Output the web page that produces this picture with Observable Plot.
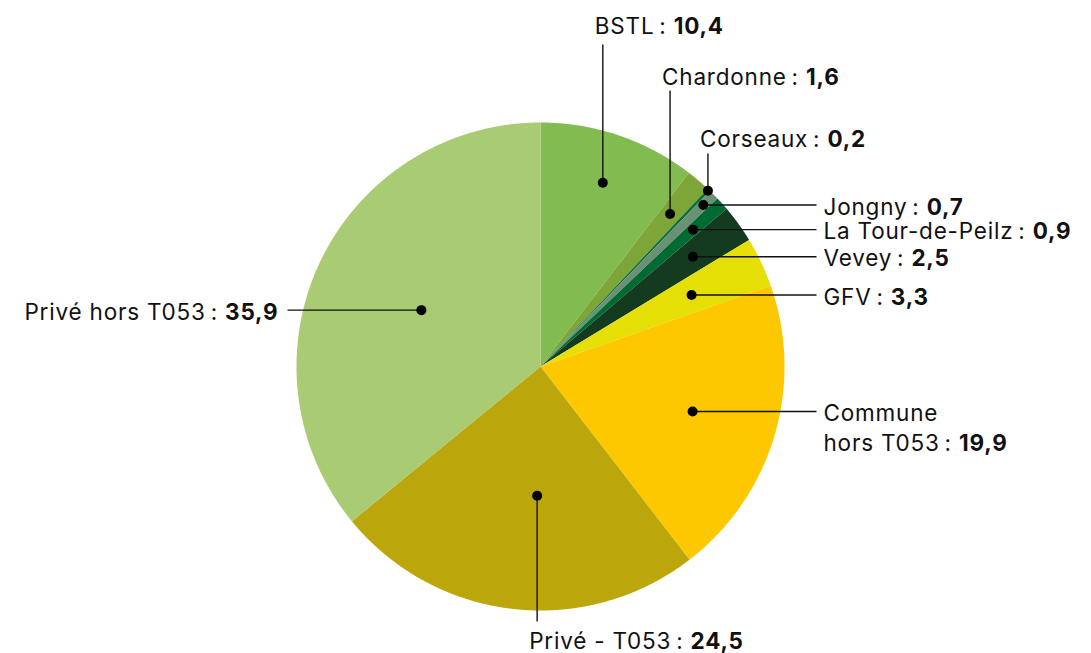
<!DOCTYPE html>
<html><head><meta charset="utf-8">
<script src="https://cdn.jsdelivr.net/npm/d3@7"></script>
<script src="https://cdn.jsdelivr.net/npm/@observablehq/plot@0.6"></script>
<style>body{margin:0;background:#fff;overflow:hidden}</style>
</head><body><div id="chart"></div>
<script>
// ---- data ----
const categories = ["BSTL","Chardonne","Corseaux","Jongny","La Tour-de-Peilz","Vevey","GFV","Commune hors T053","Privé - T053","Privé hors T053"];
const values = [10.4, 1.6, 0.2, 0.7, 0.9, 2.5, 3.3, 19.9, 24.5, 35.9];
const nameLabels = ["BSTL","Chardonne","Corseaux","Jongny","La Tour-de-Peilz","Vevey","GFV","Commune\nhors T053","Privé - T053","Privé hors T053"];
const valueLabels = ["10,4","1,6","0,2","0,7","0,9","2,5","3,3","19,9","24,5","35,9"];
const colors = ["#82bc50","#7da538","#0b6e3c","#6b9175","#006a33","#143b20","#e5df05","#fdc800","#bba70c","#a8cb74"];

// ---- layout (annotation placement) ----
const W = 1091, H = 653, CX = 540, CY = 366, R = 244;
const FONT = "Inter, 'Open Sans', sans-serif";
const layout = [
  {dir:"up",    r:0.795, lineEnd:44,  textY:24},
  {dir:"up",    r:0.82,  lineEnd:90,  textY:75},
  {dir:"up",    r:0.995, lineEnd:153, textY:137},
  {dir:"right", r:0.94},
  {dir:"right", r:0.84},
  {dir:"right", r:0.77},
  {dir:"right", r:0.685},
  {dir:"right", r:0.65, dy:15},
  {dir:"down",  r:0.53,  lineEnd:621, textY:639, shift:-5},
  {dir:"left",  r:0.54}
];
const RIGHT_LINE_END = 816, RIGHT_TEXT_X = 823, LEFT_LINE_END = 287, LEFT_TEXT_X = 278;

const arcs = d3.pie().sort(null).value(d => d)(values);
const pt = (a, r) => [CX + r * Math.sin(a), CY - r * Math.cos(a)];

// slice polygons
const polys = [];
arcs.forEach((a, i) => {
  const n = Math.max(2, Math.ceil((a.endAngle - a.startAngle) / 0.004));
  polys.push({name: categories[i], x: CX, y: CY});
  for (let k = 0; k <= n; k++) {
    const ang = a.startAngle + (a.endAngle - a.startAngle) * k / n;
    const [x, y] = pt(ang, R);
    polys.push({name: categories[i], x, y});
  }
});

// leaders, dots, labels
const dots = [], links = [], labels = [];
arcs.forEach((a, i) => {
  const L = layout[i];
  const mid = (a.startAngle + a.endAngle) / 2 + (L.shift || 0) * Math.PI / 180;
  const [dx, dy] = pt(mid, L.r * R);
  dots.push({x: dx, y: dy});
  const text = nameLabels[i] + "\u202F:\u00a0";
  let lab;
  if (L.dir === "up" || L.dir === "down") {
    links.push({x1: dx, y1: dy, x2: dx, y2: L.lineEnd});
    lab = {x: dx - 8, y: L.textY, text, anchor: "start"};
  } else if (L.dir === "right") {
    links.push({x1: dx, y1: dy, x2: RIGHT_LINE_END, y2: dy});
    lab = {x: RIGHT_TEXT_X, y: dy + (L.dy || 0), text, anchor: "start"};
  } else {
    links.push({x1: dx, y1: dy, x2: LEFT_LINE_END, y2: dy});
    lab = {x: LEFT_TEXT_X, y: dy, text, anchor: "end"};
  }
  lab.value = valueLabels[i];
  labels.push(lab);
});

const textOpts = {x: "x", y: "y", text: "text", fontSize: 22.5, lineHeight: 1.34, fill: "#111", fontFamily: FONT};

const plot = Plot.plot({
  width: W, height: H, margin: 0,
  style: {background: "#fff", fontFamily: FONT},
  x: {domain: [0, W], range: [0, W], axis: null},
  y: {domain: [0, H], range: [0, H], axis: null},
  color: {domain: categories, range: colors},
  marks: [
    Plot.line(polys, {x: "x", y: "y", z: "name", fill: "name", stroke: "none", curve: "linear"}),
    Plot.link(links, {x1: "x1", y1: "y1", x2: "x2", y2: "y2", stroke: "#111", strokeWidth: 1.4}),
    Plot.dot(dots, {x: "x", y: "y", r: 5, fill: "#000"}),
    Plot.text(labels.filter(d => d.anchor === "start"), {...textOpts, textAnchor: "start"}),
    Plot.text(labels.filter(d => d.anchor === "end"), {...textOpts, textAnchor: "end"})
  ]
});

// append bold values after each label
const byText = new Map(labels.map(d => [d.text.replace("\n", ""), d.value]));
plot.querySelectorAll("text").forEach(t => {
  const key = t.textContent;
  if (byText.has(key)) {
    t.setAttribute("letter-spacing", "0.8");
    const ts = document.createElementNS("http://www.w3.org/2000/svg", "tspan");
    ts.setAttribute("font-weight", "700");
    ts.textContent = byText.get(key);
    t.appendChild(ts);
  }
});
document.getElementById("chart").appendChild(plot);
</script>
</body></html>
